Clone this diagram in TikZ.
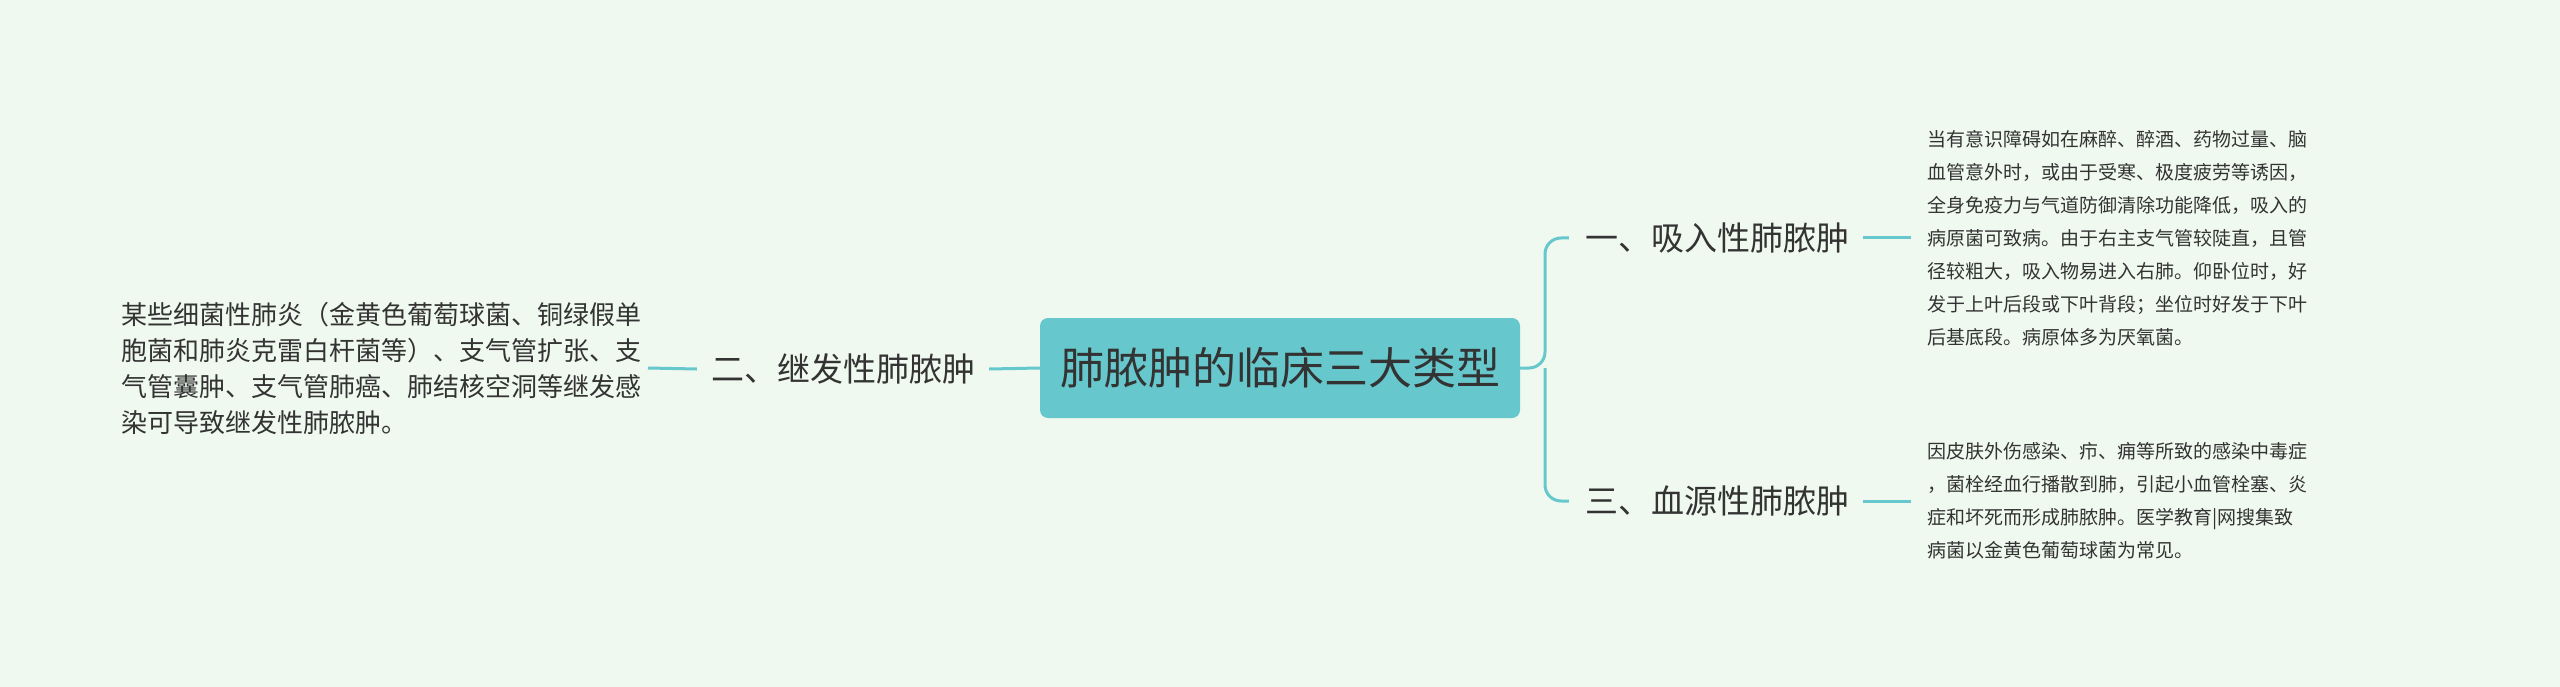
\documentclass[tikz,border=0pt]{standalone}
\usepackage{fontspec}
\setmainfont{Noto Sans CJK SC}
\definecolor{bg}{HTML}{F0F9F0}
\definecolor{ln}{HTML}{66C8CC}
\definecolor{tx}{HTML}{333333}
\begin{document}
\begin{tikzpicture}[x=1pt,y=-1pt,
  leaf/.style={anchor=west,align=left,inner sep=0pt,text=tx,font=\fontsize{19}{33}\selectfont},
  lab/.style={inner sep=0pt,text=tx,font=\fontsize{33}{38}\selectfont},
  conn/.style={draw=ln,line width=3pt}]
\fill[bg] (0,0) rectangle (2560,687);
\useasboundingbox (0,0) rectangle (2560,687);
\node[fill=ln,rounded corners=8pt,minimum width=480pt,minimum height=100pt,inner sep=0pt,text=tx,font=\fontsize{44}{50}\selectfont] (root) at (1280,368) {肺脓肿的临床三大类型};
\node[lab] (b2) at (843,369) {二、继发性肺脓肿};
\node[lab] (b1) at (1717,238) {一、吸入性肺脓肿};
\node[lab] (b3) at (1717,501) {三、血源性肺脓肿};
\node[leaf,anchor=east,font=\fontsize{26}{36}\selectfont] (l2) at (642,368) {某些细菌性肺炎（金黄色葡萄球菌、铜绿假单\\胞菌和肺炎克雷白杆菌等）、支气管扩张、支\\气管囊肿、支气管肺癌、肺结核空洞等继发感\\染可导致继发性肺脓肿。};
\node[leaf] (l1) at (1927,238) {当有意识障碍如在麻醉、醉酒、药物过量、脑\\血管意外时，或由于受寒、极度疲劳等诱因，\\全身免疫力与气道防御清除功能降低，吸入的\\病原菌可致病。由于右主支气管较陡直，且管\\径较粗大，吸入物易进入右肺。仰卧位时，好\\发于上叶后段或下叶背段；坐位时好发于下叶\\后基底段。病原体多为厌氧菌。};
\node[leaf] (l3) at (1927,501) {因皮肤外伤感染、疖、痈等所致的感染中毒症\\，菌栓经血行播散到肺，引起小血管栓塞、炎\\症和坏死而形成肺脓肿。医学教育|网搜集致\\病菌以金黄色葡萄球菌为常见。};
\draw[conn] (root.west) -- ([xshift=14pt]b2.east);
\draw[conn] ([xshift=-14pt]b2.west) -- ([xshift=6pt]l2.east);
\coordinate (j) at (1545,368);
\draw[conn,rounded corners=16pt] (root.east) -- (j) |- ([xshift=-16pt]b1.west);
\draw[conn,rounded corners=16pt] (j) |- ([xshift=-16pt]b3.west);
\draw[conn] ([xshift=14pt]b1.east) -- ([xshift=-16pt]l1.west);
\draw[conn] ([xshift=14pt]b3.east) -- ([xshift=-16pt]l3.west);
\end{tikzpicture}
\end{document}
